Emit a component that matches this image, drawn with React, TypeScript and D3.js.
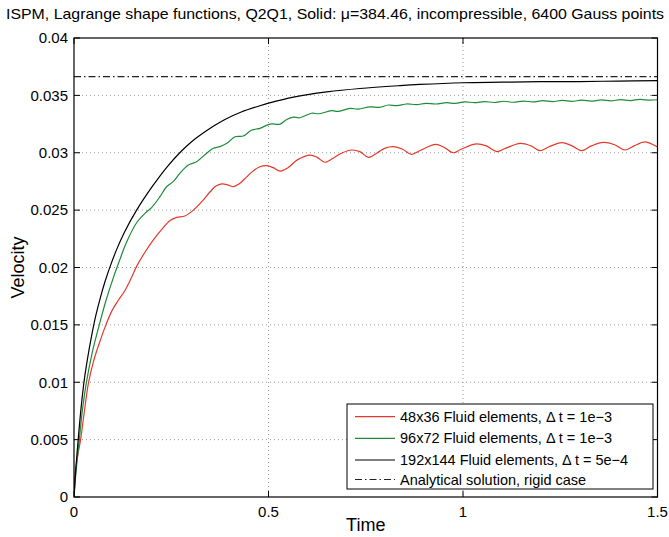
import React from "react";
import * as d3 from "d3";

const xTicks = [0, 0.5, 1, 1.5];
const yTicks = [0, 0.005, 0.01, 0.015, 0.02, 0.025, 0.03, 0.035, 0.04];
const yTickLabels = ["0", "0.005", "0.01", "0.015", "0.02", "0.025", "0.03", "0.035", "0.04"];
const xTickLabels = ["0", "0.5", "1", "1.5"];

const titleText = "ISPM, Lagrange shape functions, Q2Q1, Solid: \u03bc=384.46, incompressible, 6400 Gauss points";
const seriesNames = [
  "48x36 Fluid elements, \u0394 t = 1e\u22123",
  "96x72 Fluid elements, \u0394 t = 1e\u22123",
  "192x144 Fluid elements, \u0394 t = 5e\u22124",
  "Analytical solution, rigid case",
];

const redT = [0, 0.005, 0.01, 0.017, 0.026, 0.037, 0.05, 0.065, 0.082, 0.097, 0.113, 0.131, 0.146, 0.161, 0.18, 0.204, 0.225, 0.247, 0.264, 0.285, 0.307, 0.33, 0.35, 0.365, 0.38, 0.395, 0.41, 0.425, 0.444, 0.46, 0.478, 0.495, 0.512, 0.53, 0.55, 0.575, 0.607, 0.625, 0.645, 0.665, 0.69, 0.714, 0.735, 0.757, 0.78, 0.8, 0.821, 0.845, 0.868, 0.89, 0.93, 0.95, 0.975, 0.995, 1.031, 1.06, 1.087, 1.11, 1.147, 1.175, 1.198, 1.22, 1.254, 1.28, 1.305, 1.33, 1.361, 1.39, 1.416, 1.44, 1.468, 1.5];
const redV = [0.001, 0.0026, 0.0037, 0.005, 0.0073, 0.0099, 0.0118, 0.0134, 0.015, 0.0162, 0.0171, 0.018, 0.019, 0.0201, 0.0212, 0.0224, 0.0233, 0.0241, 0.02437, 0.02449, 0.025, 0.0258, 0.0266, 0.0271, 0.02728, 0.0272, 0.02704, 0.0273, 0.0279, 0.0284, 0.02878, 0.02887, 0.0287, 0.0284, 0.0287, 0.0294, 0.0298, 0.0296, 0.02917, 0.0295, 0.03, 0.03024, 0.0301, 0.0296, 0.03, 0.0304, 0.03053, 0.0303, 0.02986, 0.0302, 0.03073, 0.0305, 0.03, 0.0303, 0.03076, 0.0306, 0.0301, 0.0304, 0.03082, 0.0306, 0.03018, 0.0305, 0.03088, 0.0306, 0.03018, 0.0306, 0.0309, 0.0307, 0.03024, 0.0306, 0.03094, 0.0305];

const greenT = [0, 0.006, 0.0137, 0.021, 0.031, 0.047, 0.065, 0.082, 0.101, 0.118, 0.135, 0.161, 0.187, 0.2, 0.221, 0.238, 0.255, 0.272, 0.294, 0.315, 0.341, 0.358, 0.375, 0.393, 0.414, 0.435, 0.457, 0.478, 0.504, 0.53, 0.547, 0.564, 0.58, 0.611, 0.63, 0.662, 0.68, 0.71, 0.73, 0.761, 0.785, 0.808, 0.83, 0.855, 0.88, 0.905, 0.93, 0.958, 0.98, 1.005, 1.03, 1.055, 1.08, 1.105, 1.13, 1.155, 1.18, 1.205, 1.23, 1.255, 1.28, 1.305, 1.33, 1.355, 1.38, 1.405, 1.43, 1.455, 1.48, 1.5];
const greenV = [0, 0.0025, 0.005, 0.0074, 0.0098, 0.0126, 0.015, 0.0171, 0.0191, 0.0207, 0.0222, 0.0239, 0.02486, 0.02524, 0.02617, 0.02704, 0.02748, 0.0282, 0.02893, 0.02922, 0.02995, 0.03039, 0.03053, 0.03082, 0.0314, 0.03146, 0.03198, 0.03213, 0.0325, 0.0325, 0.0329, 0.0331, 0.03305, 0.03344, 0.0334, 0.03367, 0.0336, 0.03387, 0.0338, 0.034, 0.03395, 0.03416, 0.0341, 0.03425, 0.0342, 0.0343, 0.03425, 0.03436, 0.0343, 0.03444, 0.03436, 0.03446, 0.03438, 0.03449, 0.0344, 0.0345, 0.03443, 0.03454, 0.03446, 0.03456, 0.03448, 0.03458, 0.0345, 0.0346, 0.03452, 0.03463, 0.03455, 0.03465, 0.03458, 0.03462];

const blackT = [0, 0.005, 0.011, 0.018, 0.026, 0.035, 0.045, 0.056, 0.068, 0.08, 0.093, 0.11, 0.13, 0.161, 0.2, 0.24, 0.272, 0.3, 0.358, 0.388, 0.43, 0.478, 0.5, 0.564, 0.65, 0.735, 0.838, 0.889, 1.0, 1.1, 1.2, 1.3, 1.4, 1.5];
const blackV = [0, 0.0026, 0.0051, 0.0077, 0.0101, 0.0121, 0.014, 0.0158, 0.0174, 0.0188, 0.0201, 0.0216, 0.0231, 0.025, 0.027, 0.0288, 0.03, 0.0309, 0.0323, 0.0329, 0.03355, 0.0341, 0.03432, 0.03485, 0.0353, 0.0356, 0.03585, 0.03595, 0.0361, 0.03615, 0.0362, 0.0362, 0.03625, 0.03628];

const analyticalValue = [0.03663];

const W = 669;
const H = 537;
const M = { left: 74, right: 657.5, top: 38, bottom: 497 };
const FONT = "'Liberation Sans', Arial, Helvetica, sans-serif";

export default function App() {
  const x = d3.scaleLinear().domain([0, 1.5]).range([M.left, M.right]);
  const y = d3.scaleLinear().domain([0, 0.04]).range([M.bottom, M.top]);
  const line = d3
    .line<[number, number]>()
    .x((d) => x(d[0]))
    .y((d) => y(d[1]))
    .curve(d3.curveCatmullRom.alpha(0.5));

  const zip = (t: number[], v: number[]) => t.map((tt, i) => [tt, v[i]] as [number, number]);
  const series = [
    { data: zip(redT, redV), color: "#e3392c" },
    { data: zip(greenT, greenV), color: "#1e8a3a" },
    { data: zip(blackT, blackV), color: "#000000" },
  ];
  const tickLen = 6;

  const legend = { x: 347, y: 404, w: 306, h: 85 };
  const rowY = [416.7, 438.3, 460, 479.5];
  const legendColors = ["#e3392c", "#1e8a3a", "#000000", "#222222"];

  return (
    <svg width={W} height={H} style={{ position: "absolute", left: 0, top: 0, background: "#fff" }} fontFamily={FONT}>
      <rect x={0} y={0} width={W} height={H} fill="#fff" />
      <defs>
        <clipPath id="plotclip">
          <rect x={M.left} y={M.top} width={M.right - M.left} height={M.bottom - M.top} />
        </clipPath>
      </defs>
      {yTicks.slice(1, -1).map((t) => (
        <line key={"gy" + t} x1={M.left} x2={M.right} y1={y(t)} y2={y(t)} stroke="#9a9a9a" strokeWidth={1} strokeDasharray="1,3" />
      ))}
      {xTicks.slice(1, -1).map((t) => (
        <line key={"gx" + t} x1={x(t)} x2={x(t)} y1={M.top} y2={M.bottom} stroke="#9a9a9a" strokeWidth={1} strokeDasharray="1,3" />
      ))}
      {yTicks.map((t) => (
        <g key={"ty" + t}>
          <line x1={M.left} x2={M.left + tickLen} y1={y(t)} y2={y(t)} stroke="#000" strokeWidth={1} />
          <line x1={M.right} x2={M.right - tickLen} y1={y(t)} y2={y(t)} stroke="#000" strokeWidth={1} />
        </g>
      ))}
      {xTicks.map((t) => (
        <g key={"tx" + t}>
          <line x1={x(t)} x2={x(t)} y1={M.bottom} y2={M.bottom - tickLen} stroke="#000" strokeWidth={1} />
          <line x1={x(t)} x2={x(t)} y1={M.top} y2={M.top + tickLen} stroke="#000" strokeWidth={1} />
        </g>
      ))}
      <g clipPath="url(#plotclip)">
        {analyticalValue.map((v, i) => (
          <line key={"an" + i} x1={M.left} x2={M.right} y1={y(v)} y2={y(v)} stroke="#222" strokeWidth={1.2} strokeDasharray="7,3,1.5,3" />
        ))}
        {series.map((s, i) => (
          <path key={"s" + i} d={line(s.data) || ""} fill="none" stroke={s.color} strokeWidth={1.2} />
        ))}
      </g>
      <rect x={M.left} y={M.top} width={M.right - M.left} height={M.bottom - M.top} fill="none" stroke="#000" strokeWidth={1.2} />
      {yTicks.map((t, i) => (
        <text key={"ly" + t} x={M.left - 6} y={y(t)} dy="0.35em" textAnchor="end" fontSize={15} fill="#000">
          {yTickLabels[i]}
        </text>
      ))}
      {xTicks.map((t, i) => (
        <text key={"lx" + t} x={x(t)} y={M.bottom + 15} dy="0.35em" textAnchor="middle" fontSize={15} fill="#000">
          {xTickLabels[i]}
        </text>
      ))}
      <text x={(M.left + M.right) / 2} y={531} textAnchor="middle" fontSize={18} fill="#000">Time</text>
      <text transform={`translate(24,${(M.top + M.bottom) / 2}) rotate(-90)`} textAnchor="middle" fontSize={18} fill="#000">Velocity</text>
      <text x={335} y={19} textAnchor="middle" fontSize={15} fill="#000" textLength={658} lengthAdjust="spacingAndGlyphs">{titleText}</text>
      <rect x={legend.x} y={legend.y} width={legend.w} height={legend.h} fill="#fff" stroke="#000" strokeWidth={1} />
      {seriesNames.map((n, i) => (
        <g key={"lg" + i}>
          <line x1={355} x2={395} y1={rowY[i]} y2={rowY[i]} stroke={legendColors[i]} strokeWidth={1.2} strokeDasharray={i === 3 ? "7,3,1.5,3" : undefined} />
          <text x={400} y={rowY[i]} dy="0.35em" fontSize={14.5} fill="#000">{n}</text>
        </g>
      ))}
    </svg>
  );
}
